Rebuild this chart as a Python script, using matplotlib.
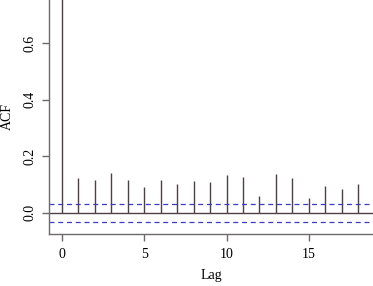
import numpy as np
import matplotlib
matplotlib.use('Agg')
import matplotlib.pyplot as plt

plt.rcParams['font.family'] = ['Liberation Serif', 'DejaVu Serif']

# ACF values (lag 0 = 1, clipped at top)
lags = list(range(0, 19))
acf = [1.0, 0.124, 0.114, 0.139, 0.114, 0.092, 0.114, 0.100, 0.112, 0.107,
       0.132, 0.125, 0.057, 0.137, 0.121, 0.052, 0.094, 0.085, 0.100]
ci = 0.032

xticks = [0, 5, 10, 15]
yticks = [0.0, 0.2, 0.4, 0.6]

fig = plt.figure(figsize=(3.73, 2.86), dpi=100)
ax = fig.add_axes([49/373, 1-233.7/286, 1-49/373, 233.7/286])

lc = '#4d4046'
ax.vlines(lags, 0, acf, color=lc, lw=1.0)
ax.axhline(0, color=lc, lw=1.0)
ax.axhline(ci, color='#3b3bc4', lw=0.9, ls=(0, (4, 3)))
ax.axhline(-ci, color='#3b3bc4', lw=0.9, ls=(0, (4, 3)))

ax.set_xlim(-0.79, 18.9)
ax.set_ylim(-0.075, 0.754)

for s in ['top', 'right']:
    ax.spines[s].set_visible(False)
for s in ['left', 'bottom']:
    ax.spines[s].set_color('#6e6a6c')
    ax.spines[s].set_linewidth(1.0)

ax.set_xticks(xticks)
ax.set_yticks(yticks)
ax.set_yticklabels(['0.0', '0.2', '0.4', '0.6'], rotation=90, va='center')
ax.tick_params(axis='both', color='#6e6a6c', length=5, width=1.0, labelsize=10)
ax.tick_params(axis='x', pad=5)
ax.tick_params(axis='y', pad=4)

ax.set_xlabel('Lag', fontsize=10, labelpad=6)
ax.set_ylabel('ACF', fontsize=10, labelpad=7)

fig.savefig('out.png', dpi=100)
